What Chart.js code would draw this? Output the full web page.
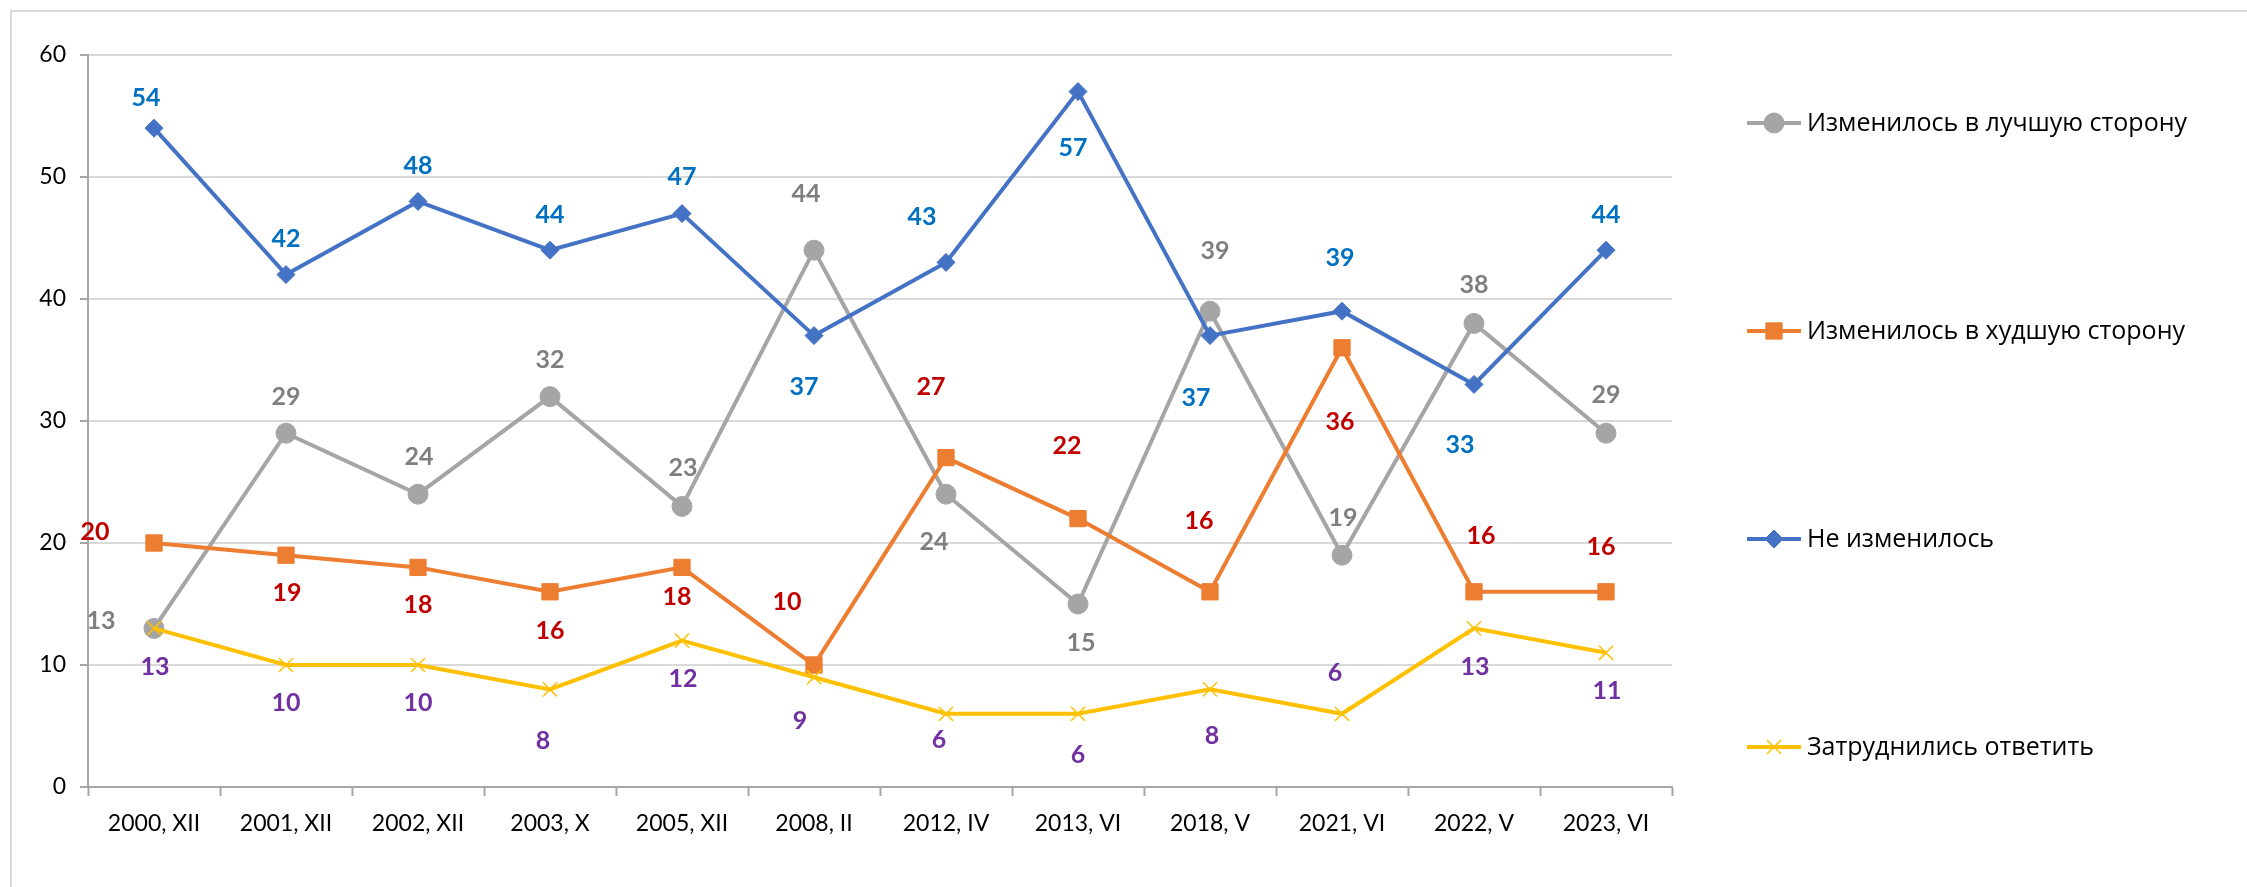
<!DOCTYPE html>
<html>
<head>
<meta charset="utf-8">
<script src="https://cdn.jsdelivr.net/npm/chart.js@4/dist/chart.umd.min.js"></script>
<style>
  html, body { margin: 0; padding: 0; background: #fff; }
  canvas { display: block; }
</style>
</head>
<body>
<canvas id="poll" width="2247" height="887"></canvas>
<script>
const categories = ['2000, XII', '2001, XII', '2002, XII', '2003, X', '2005, XII', '2008, II',
  '2012, IV', '2013, VI', '2018, V', '2021, VI', '2022, V', '2023, VI'];

const seriesNames = ['Изменилось в лучшую сторону', 'Изменилось в худшую сторону',
  'Не изменилось', 'Затруднились ответить'];

const better = [13, 29, 24, 32, 23, 44, 24, 15, 39, 19, 38, 29];
const worse = [20, 19, 18, 16, 18, 10, 27, 22, 16, 36, 16, 16];
const unchanged = [54, 42, 48, 44, 47, 37, 43, 57, 37, 39, 33, 44];
const hardToSay = [13, 10, 10, 8, 12, 9, 6, 6, 8, 6, 13, 11];

const yTicks = [0, 10, 20, 30, 40, 50, 60];

// where each value label sits relative to its point (px), as placed in the original
const betterLabelPos = [[-53, -7], [0, -36], [1, -37], [0, -37], [1, -38], [-8, -56],
  [-12, 48], [3, 39], [5, -60], [1, -37], [0, -38], [0, -38]];
const worseLabelPos = [[-59, -11], [1, 38], [0, 38], [0, 39], [-5, 30], [-27, -63],
  [-15, -71], [-11, -73], [-11, -71], [-2, 74], [7, -56], [-5, -45]];
const unchangedLabelPos = [[-8, -30], [0, -36], [0, -35], [0, -35], [0, -37], [-10, 51],
  [-24, -45], [-5, 56], [-14, 62], [-2, -53], [-14, 61], [0, -35]];
const hardLabelPos = [[1, 39], [0, 38], [0, 38], [-7, 52], [1, 38], [-14, 44],
  [-7, 26], [0, 41], [2, 47], [-7, -41], [1, 39], [1, 38]];

const labelPos = [betterLabelPos, worseLabelPos, unchangedLabelPos, hardLabelPos];
const labelColors = ['#7F7F7F', '#C00000', '#0070C0', '#7030A0'];

const valueLabels = {
  id: 'valueLabels',
  afterDatasetsDraw(chart) {
    const ctx = chart.ctx;
    ctx.save();
    ctx.font = 'bold 25px Lato, "Open Sans", sans-serif';
    ctx.textAlign = 'center';
    ctx.textBaseline = 'middle';
    chart.data.datasets.forEach((ds, i) => {
      const meta = chart.getDatasetMeta(i);
      ctx.fillStyle = labelColors[i];
      meta.data.forEach((pt, j) => {
        const [dx, dy] = labelPos[i][j];
        ctx.fillText(String(ds.data[j]), pt.x + dx, pt.y + dy);
      });
    });
    ctx.restore();
  }
};

const sideLegend = {
  id: 'sideLegend',
  afterDraw(chart) {
    const ctx = chart.ctx;
    ctx.save();
    chart.data.datasets.forEach((ds, i) => {
      const y = 123 + i * 208;
      ctx.strokeStyle = ds.borderColor;
      ctx.lineWidth = ds.borderWidth;
      ctx.beginPath();
      ctx.moveTo(1747, y);
      ctx.lineTo(1801, y);
      ctx.stroke();
      ctx.fillStyle = ds.pointBackgroundColor;
      ctx.strokeStyle = ds.pointBorderColor;
      ctx.lineWidth = ds.pointBorderWidth;
      Chart.helpers.drawPoint(ctx, { pointStyle: ds.pointStyle, radius: ds.pointRadius, borderWidth: ds.pointBorderWidth, rotation: 0 }, 1774, y);
      ctx.fillStyle = '#000';
      ctx.font = '25px "Open Sans", sans-serif';
      ctx.textAlign = 'left';
      ctx.textBaseline = 'middle';
      ctx.fillText(ds.label, 1807, y + 1);
    });
    ctx.restore();
  }
};

const frame = {
  id: 'frame',
  beforeDraw(chart) {
    const ctx = chart.ctx;
    ctx.save();
    ctx.strokeStyle = '#D9D9D9';
    ctx.lineWidth = 2;
    ctx.strokeRect(11, 11, 3000, 3000);
    ctx.restore();
  }
};

function series(label, data, color, style, radius, order, extra) {
  return Object.assign({
    label, data, order,
    borderColor: color,
    backgroundColor: color,
    borderWidth: 4,
    tension: 0,
    pointStyle: style,
    pointRadius: radius,
    pointHoverRadius: radius,
    pointBackgroundColor: color,
    pointBorderColor: color,
    pointBorderWidth: 1
  }, extra || {});
}

new Chart(document.getElementById('poll'), {
  type: 'line',
  data: {
    labels: categories,
    datasets: [
      series(seriesNames[0], better, '#A5A5A5', 'circle', 10, 4),
      series(seriesNames[1], worse, '#ED7D31', 'rect', 11.5, 3),
      series(seriesNames[2], unchanged, '#4472C4', 'rectRot', 9, 2),
      series(seriesNames[3], hardToSay, '#FFC000', 'crossRot', 10, 1, { pointBorderWidth: 1.5 })
    ]
  },
  options: {
    responsive: false,
    animation: false,
    layout: { padding: { top: 55, right: 575, left: 0, bottom: 0 } },
    plugins: {
      legend: { display: false },
      tooltip: { enabled: false }
    },
    scales: {
      x: {
        offset: true,
        grid: {
          offset: true,
          drawOnChartArea: false,
          tickLength: 9,
          tickColor: '#A6A6A6',
          tickWidth: 2
        },
        border: { color: '#A6A6A6', width: 2 },
        ticks: {
          color: '#000',
          padding: 14,
          maxRotation: 0,
          font: { family: 'Lato, "Open Sans", sans-serif', size: 23 }
        },
        afterFit(scale) { scale.height = 100; }
      },
      y: {
        min: yTicks[0],
        max: yTicks[yTicks.length - 1],
        afterBuildTicks(scale) { scale.ticks = yTicks.map(v => ({ value: v })); },
        grid: {
          color: '#D9D9D9',
          lineWidth: 2,
          tickLength: 8,
          tickColor: '#A6A6A6'
        },
        border: { color: '#A6A6A6', width: 2 },
        ticks: {
          color: '#000',
          padding: 14,
          font: { family: 'Lato, "Open Sans", sans-serif', size: 23 }
        },
        afterFit(scale) { scale.width = 88; }
      }
    }
  },
  plugins: [frame, valueLabels, sideLegend]
});
</script>
</body>
</html>
